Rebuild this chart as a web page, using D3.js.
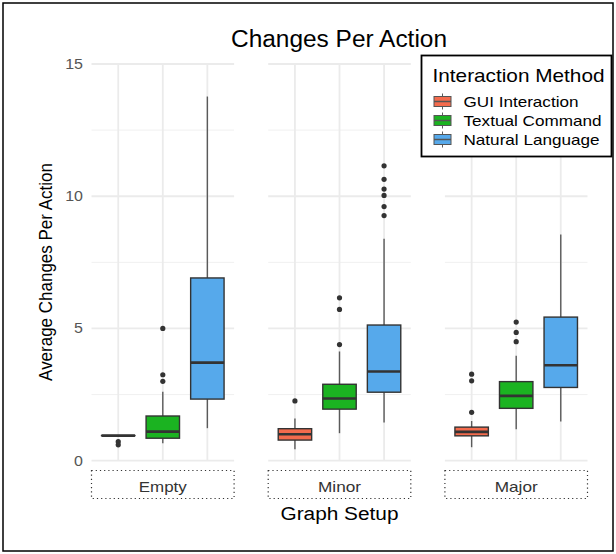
<!DOCTYPE html>
<html><head><meta charset="utf-8">
<script src="https://cdn.jsdelivr.net/npm/d3@7"></script>
<style>body{margin:0;background:#fff;}svg{display:block;font-family:"Liberation Sans",Arial,sans-serif;}</style>
</head><body><svg id="c" width="616" height="554"></svg>
<script>
const setups = ["Empty","Minor","Major"];
const methods = ["GUI Interaction","Textual Command","Natural Language"];
const colors = ["#F46B4D","#1BB321","#56A9EB"];
const yTicks = [0,5,10,15];
// [setup][method] = [lowerWhisker, q1, median, q3, upperWhisker]
const statsEmpty = [[0.95,0.95,0.95,0.95,0.95],[0.66,0.85,1.1,1.69,2.61],[1.23,2.33,3.71,6.91,13.77]];
const statsMinor = [[0.43,0.78,1.0,1.21,1.6],[1.04,1.95,2.35,2.89,4.13],[1.44,2.59,3.37,5.13,8.39]];
const statsMajor = [[0.51,0.94,1.09,1.27,1.5],[1.19,1.98,2.45,2.99,3.97],[1.48,2.77,3.61,5.43,8.55]];
const outEmpty = [[0.72,0.6],[3.0,3.25,5.0],[]];
const outMinor = [[2.26],[4.39,5.72,6.16],[9.27,9.61,10.03,10.27,10.64,11.15]];
const outMajor = [[1.83,3.02,3.27],[4.5,4.85,5.24],[]];
const stats = [statsEmpty,statsMinor,statsMajor];
const outliers = [outEmpty,outMinor,outMajor];

const svg = d3.select("#c");
svg.append("rect").attr("x",3).attr("y",3).attr("width",610).attr("height",548)
  .attr("fill","none").attr("stroke","#000").attr("stroke-width",1.5);

const y = d3.scaleLinear().domain([0,15]).range([460.7,64]);
const panels = d3.scaleBand().domain(setups).range([91.5,587.5]).paddingInner(0.193).paddingOuter(0);
const pw = panels.bandwidth();

// width-fitted text helper (reference glyphs are slightly wider)
function txt(sel, s, w){
  const t = sel.append("text").text(s);
  const n = t.node();
  const base = n.getComputedTextLength();
  if (w && base>0) t.attr("textLength", w).attr("lengthAdjust","spacingAndGlyphs");
  return t;
}

txt(svg.append("g"), "Changes Per Action", 216).attr("x",339).attr("y",46.5).attr("text-anchor","middle")
  .attr("font-size",23).attr("fill","#000");

// y tick labels
yTicks.forEach(d=>{
  svg.append("text").attr("x",83).attr("y",y(d)+5).attr("text-anchor","end")
    .attr("font-size",14).attr("fill","#555").attr("textLength", String(d).length*8.9)
    .attr("lengthAdjust","spacingAndGlyphs").text(d);
});

svg.append("text").attr("transform","translate(52,272) scale(1.12,1) rotate(-90)")
  .attr("text-anchor","middle").attr("font-size",17).attr("fill","#000")
  .text("Average Changes Per Action");

const stripW = [48,43,43];
setups.forEach((s,si)=>{
  const x0 = panels(s);
  const xp = d3.scalePoint().domain(methods).range([x0+pw*0.6/3.2, x0+pw-pw*0.6/3.2]);
  const step = pw/3.2;
  const g = svg.append("g");
  [2.5,7.5,12.5].forEach(v=>g.append("line").attr("x1",x0).attr("x2",x0+pw)
    .attr("y1",y(v)).attr("y2",y(v)).attr("stroke","#f0f0f0").attr("stroke-width",1));
  yTicks.forEach(v=>g.append("line").attr("x1",x0).attr("x2",x0+pw)
    .attr("y1",y(v)).attr("y2",y(v)).attr("stroke","#ebebeb").attr("stroke-width",1.8));
  methods.forEach(m=>g.append("line").attr("x1",xp(m)).attr("x2",xp(m))
    .attr("y1",y(15)).attr("y2",y(0)).attr("stroke","#ebebeb").attr("stroke-width",1.8));
  methods.forEach((m,mi)=>{
    const st = stats[si][mi];
    const cx = xp(m), bw = step*0.75;
    g.append("line").attr("x1",cx).attr("x2",cx).attr("y1",y(st[0])).attr("y2",y(st[1]))
      .attr("stroke","#5a5a5a").attr("stroke-width",1.4);
    g.append("line").attr("x1",cx).attr("x2",cx).attr("y1",y(st[3])).attr("y2",y(st[4]))
      .attr("stroke","#5a5a5a").attr("stroke-width",1.4);
    g.append("rect").attr("x",cx-bw/2).attr("width",bw).attr("y",y(st[3]))
      .attr("height",Math.max(0.01,y(st[1])-y(st[3]))).attr("fill",colors[mi])
      .attr("stroke","#333").attr("stroke-width",1.4);
    g.append("line").attr("x1",cx-bw/2).attr("x2",cx+bw/2).attr("y1",y(st[2])).attr("y2",y(st[2]))
      .attr("stroke","#333").attr("stroke-width",2.6);
    outliers[si][mi].forEach(o=>g.append("circle").attr("cx",cx).attr("cy",y(o)).attr("r",2.6).attr("fill","#333"));
  });
  svg.append("rect").attr("x",x0).attr("y",470.5).attr("width",pw).attr("height",28)
    .attr("fill","none").attr("stroke","#333").attr("stroke-width",1.2).attr("stroke-dasharray","1.2,3");
  txt(svg.append("g"), s, stripW[si]).attr("x",x0+pw/2).attr("y",491.5).attr("text-anchor","middle")
    .attr("font-size",15).attr("fill","#333");
});

txt(svg.append("g"), "Graph Setup", 118).attr("x",339.5).attr("y",520).attr("text-anchor","middle")
  .attr("font-size",18).attr("fill","#000");

// legend
const lg = svg.append("g");
lg.append("rect").attr("x",421.5).attr("y",55.5).attr("width",190).attr("height",101)
  .attr("fill","#fff").attr("stroke","#000").attr("stroke-width",1.8);
txt(lg, "Interaction Method", 172).attr("x",432.5).attr("y",81.5).attr("font-size",18.5).attr("fill","#000");
const ly = d3.scalePoint().domain(methods).range([101.5,139.5]);
const lgW = [115,138,136];
methods.forEach((m,i)=>{
  const cy = ly(m);
  lg.append("line").attr("x1",442.5).attr("x2",442.5).attr("y1",cy-8).attr("y2",cy+8).attr("stroke","#5a5a5a").attr("stroke-width",1);
  lg.append("rect").attr("x",434).attr("y",cy-5).attr("width",17).attr("height",10)
    .attr("fill",colors[i]).attr("stroke","#555").attr("stroke-width",1);
  lg.append("line").attr("x1",434).attr("x2",451).attr("y1",cy).attr("y2",cy).attr("stroke","#555").attr("stroke-width",1.5);
  txt(lg, m, lgW[i]).attr("x",463.5).attr("y",cy+5.5).attr("font-size",15).attr("fill","#000");
});
</script></body></html>
